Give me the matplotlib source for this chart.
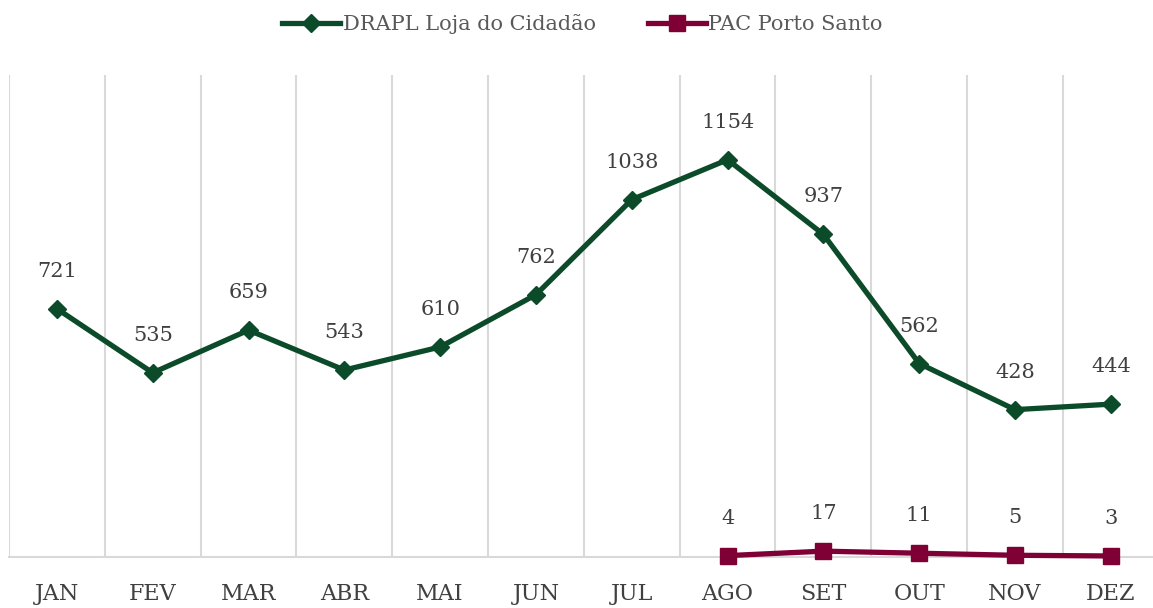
import matplotlib.pyplot as plt
import numpy as np

months = ['JAN', 'FEV', 'MAR', 'ABR', 'MAI', 'JUN', 'JUL', 'AGO', 'SET', 'OUT', 'NOV', 'DEZ']
drapl = [721, 535, 659, 543, 610, 762, 1038, 1154, 937, 562, 428, 444]
pac_months = ['AGO', 'SET', 'OUT', 'NOV', 'DEZ']
pac = [4, 17, 11, 5, 3]

plt.rcParams['font.family'] = ['DejaVu Serif']

fig = plt.figure(figsize=(11.53, 6.08), dpi=100)
ax = fig.add_axes([9 / 1153, 51 / 608, 1 - 9 / 1153, 482 / 608])

x = np.arange(len(months))
px = [months.index(m) for m in pac_months]

green = '#0C4B2A'
maroon = '#7F0035'

ax.plot(x, drapl, color=green, lw=3.8, marker='D', ms=9.5, label='DRAPL Loja do Cidadão',
        zorder=3, clip_on=False)
ax.plot(px, pac, color=maroon, lw=3.8, marker='s', ms=11.5, label='PAC Porto Santo',
        zorder=3, clip_on=False)

for xi, v in zip(x, drapl):
    ax.annotate(str(v), (xi, v), xytext=(0, 27), textcoords='offset points',
                ha='center', va='center', fontsize=15, color='#404040')
for xi, v in zip(px, pac):
    ax.annotate(str(v), (xi, v), xytext=(0, 27), textcoords='offset points',
                ha='center', va='center', fontsize=15, color='#404040')

ax.set_xlim(-0.5, 11.44)
ax.set_ylim(0, 1400)
for b in np.arange(-0.5, 11.5, 1.0):
    ax.axvline(b, color='#D9D9D9', lw=1.5, zorder=1)

ax.set_xticks(x)
ax.set_xticklabels(months, fontsize=16, color='#404040')
ax.tick_params(axis='x', length=0, pad=19)
ax.set_yticks([])
for s in ['top', 'left', 'right']:
    ax.spines[s].set_visible(False)
ax.spines['bottom'].set_color('#D9D9D9')
ax.spines['bottom'].set_linewidth(1.5)

leg = fig.legend(loc='upper center', bbox_to_anchor=(0.505, 1.008), ncol=2, frameon=False,
                 fontsize=15, handlelength=2.8, columnspacing=2.5, handletextpad=0.1)
for t in leg.get_texts():
    t.set_color('#595959')

fig.savefig('out.png', dpi=100)
